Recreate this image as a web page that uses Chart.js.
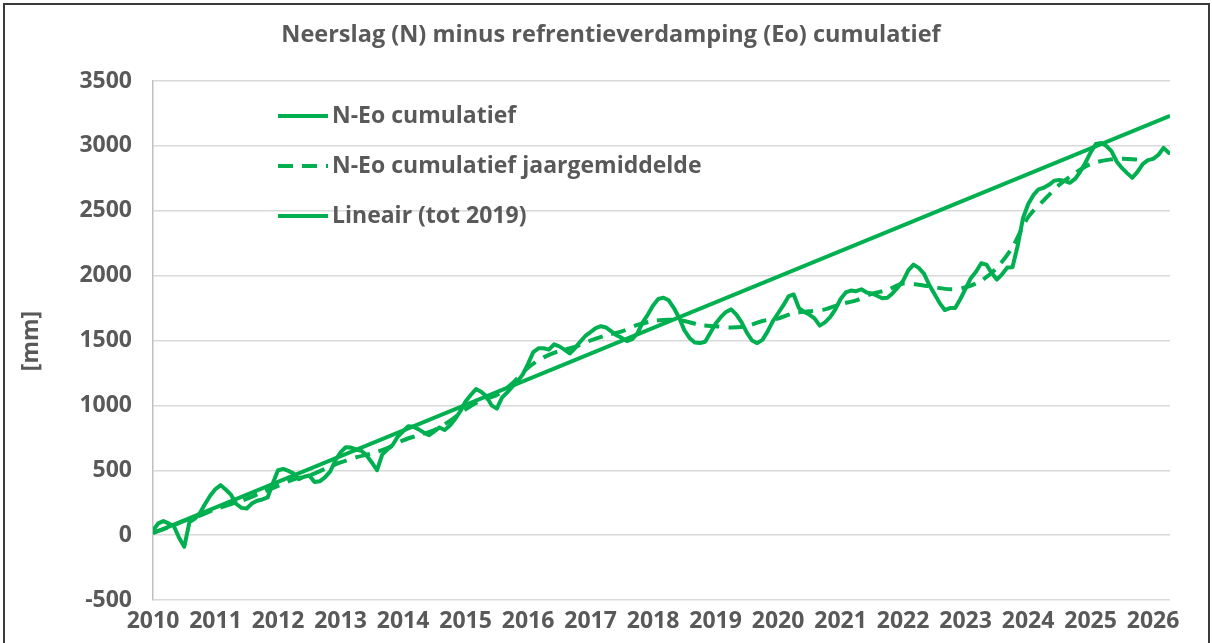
<!DOCTYPE html>
<html>
<head>
<meta charset="utf-8">
<script src="https://cdn.jsdelivr.net/npm/chart.js@4.4.1/dist/chart.umd.min.js"></script>
<style>
  html, body { margin: 0; padding: 0; background: #fff; }
  #wrap { position: relative; width: 1212px; height: 643px; }
  #frame { position: absolute; left: 3px; top: 3px; width: 1203px; height: 660px; border: 2px solid #3a3a3a; pointer-events: none; }
</style>
</head>
<body>
<div id="wrap">
  <canvas id="chart" width="1212" height="643"></canvas>
  <div id="frame"></div>
</div>
<script>
const title = 'Neerslag (N) minus refrentieverdamping (Eo) cumulatief';
const yAxisTitle = '[mm]';
const yearLabels = [2010, 2011, 2012, 2013, 2014, 2015, 2016, 2017, 2018, 2019, 2020, 2021, 2022, 2023, 2024, 2025, 2026];
const startYear = 2010;
const endYear = 2026.27;

// monthly values, jan 2010 .. apr 2026
const cumulative = [
    38, 90, 108, 90, 70, -20, -90, 100, 125, 170, 240, 305,
    355, 385, 350, 310, 240, 210, 205, 245, 265, 275, 290, 400,
    500, 510, 495, 475, 432, 450, 460, 410, 415, 445, 490, 575,
    638, 677, 675, 660, 650, 615, 560, 500, 620, 660, 695, 760,
    800, 840, 835, 815, 790, 770, 800, 830, 810, 845, 895, 955,
    1030, 1080, 1125, 1105, 1070, 1000, 975, 1060, 1100, 1145, 1185, 1240,
    1320, 1410, 1440, 1440, 1430, 1470, 1455, 1430, 1400, 1440, 1490, 1535,
    1565, 1595, 1610, 1600, 1570, 1540, 1520, 1495, 1510, 1555, 1640, 1700,
    1770, 1820, 1830, 1810, 1750, 1675, 1580, 1520, 1485, 1480, 1490, 1560,
    1630, 1680, 1720, 1740, 1700, 1640, 1560, 1500, 1480, 1505, 1570, 1650,
    1710, 1770, 1840, 1855, 1750, 1720, 1700, 1670, 1615, 1640, 1680, 1740,
    1820, 1870, 1885, 1880, 1895, 1870, 1862, 1845, 1825, 1830, 1865, 1910,
    1960, 2040, 2085, 2060, 2015, 1930, 1860, 1790, 1735, 1750, 1750, 1820,
    1900, 1980, 2030, 2095, 2085, 2020, 1970, 2010, 2062, 2065, 2230, 2440,
    2550, 2620, 2665, 2677, 2700, 2731, 2738, 2730, 2715, 2745, 2800, 2870,
    2950, 3015, 3023, 3000, 2960, 2880, 2830, 2790, 2754, 2800, 2860, 2890,
    2900, 2930, 2985, 2946
];

// quarterly values of the year average, 2010 .. 2025
const yearAverage = [
    20, 60, 110, 150,
    200, 240, 280, 330,
    380, 430, 460, 510,
    560, 600, 630, 670,
    730, 770, 810, 880,
    970, 1040, 1080, 1170,
    1290, 1370, 1420, 1450,
    1500, 1540, 1570, 1620,
    1650, 1660, 1650, 1620,
    1610, 1600, 1610, 1650,
    1670, 1710, 1725, 1740,
    1780, 1810, 1860, 1890,
    1940, 1930, 1910, 1895,
    1910, 1960, 2060, 2220,
    2450, 2580, 2700, 2790,
    2860, 2890, 2900, 2895
];

// linear trend (fit up to 2019), start and end
const trendYears = [2010, 2026.27];
const trendValues = [15, 3232];

const green = '#00b050';
const textColor = '#595959';
const fontFamily = "'Open Sans', 'DejaVu Sans', sans-serif";

const monthlyPoints = cumulative.map((v, i) => ({ x: startYear + i / 12, y: v }));
const averagePoints = yearAverage.map((v, i) => ({ x: startYear + i / 4, y: v }));
const trendPoints = trendYears.map((x, i) => ({ x: x, y: trendValues[i] }));

// title, y-axis title and legend drawn inside the plot
const decorations = {
    id: 'decorations',
    afterDraw(chart) {
        const ctx = chart.ctx;
        ctx.save();
        ctx.fillStyle = textColor;
        ctx.textBaseline = 'middle';

        ctx.font = 'bold 23.5px ' + fontFamily;
        ctx.textAlign = 'center';
        ctx.fillText(title, 611, 35);

        ctx.save();
        ctx.translate(31, 341);
        ctx.rotate(-Math.PI / 2);
        ctx.font = 'bold 23px ' + fontFamily;
        ctx.fillText(yAxisTitle, 0, 0);
        ctx.restore();

        ctx.font = 'bold 23px ' + fontFamily;
        ctx.textAlign = 'left';
        chart.data.datasets.forEach((ds, i) => {
            const y = 116 + i * 50;
            ctx.beginPath();
            ctx.strokeStyle = ds.borderColor;
            ctx.lineWidth = ds.borderWidth;
            ctx.setLineDash(ds.borderDash || []);
            ctx.moveTo(278, y);
            ctx.lineTo(328, y);
            ctx.stroke();
            ctx.setLineDash([]);
            ctx.fillText(ds.label, 332, y);
        });
        ctx.restore();
    }
};

new Chart(document.getElementById('chart').getContext('2d'), {
    type: 'line',
    data: {
        datasets: [
            {
                label: 'N-Eo cumulatief',
                data: monthlyPoints,
                borderColor: green,
                borderWidth: 4,
                pointRadius: 0,
                tension: 0,
                borderJoinStyle: 'round',
                borderCapStyle: 'round'
            },
            {
                label: 'N-Eo cumulatief jaargemiddelde',
                data: averagePoints,
                borderColor: green,
                borderWidth: 4,
                borderDash: [15, 9],
                pointRadius: 0,
                tension: 0.3
            },
            {
                label: 'Lineair (tot 2019)',
                data: trendPoints,
                borderColor: green,
                borderWidth: 4,
                pointRadius: 0
            }
        ]
    },
    options: {
        responsive: false,
        animation: false,
        layout: { padding: { top: 81, right: 42, left: 0, bottom: 0 } },
        plugins: {
            legend: { display: false },
            title: { display: false },
            tooltip: { enabled: false }
        },
        scales: {
            x: {
                type: 'linear',
                min: startYear,
                max: endYear,
                afterBuildTicks: s => { s.ticks = yearLabels.map(v => ({ value: v })); },
                afterFit: s => { s.height = 43; },
                grid: { display: false },
                border: { display: false },
                ticks: {
                    color: textColor,
                    font: { family: fontFamily, size: 23, weight: 'bold' },
                    padding: 0,
                    maxRotation: 0,
                    autoSkip: false,
                    callback: v => String(v)
                }
            },
            y: {
                min: -500,
                max: 3500,
                afterFit: s => { s.width = 153; },
                grid: { color: '#d9d9d9', lineWidth: 1.5, drawTicks: false },
                border: { display: true, color: '#bfbfbf', width: 1.5 },
                ticks: {
                    stepSize: 500,
                    color: textColor,
                    padding: 21,
                    font: { family: fontFamily, size: 23, weight: 'bold' },
                    callback: v => String(v)
                }
            }
        }
    },
    plugins: [decorations]
});
</script>
</body>
</html>
